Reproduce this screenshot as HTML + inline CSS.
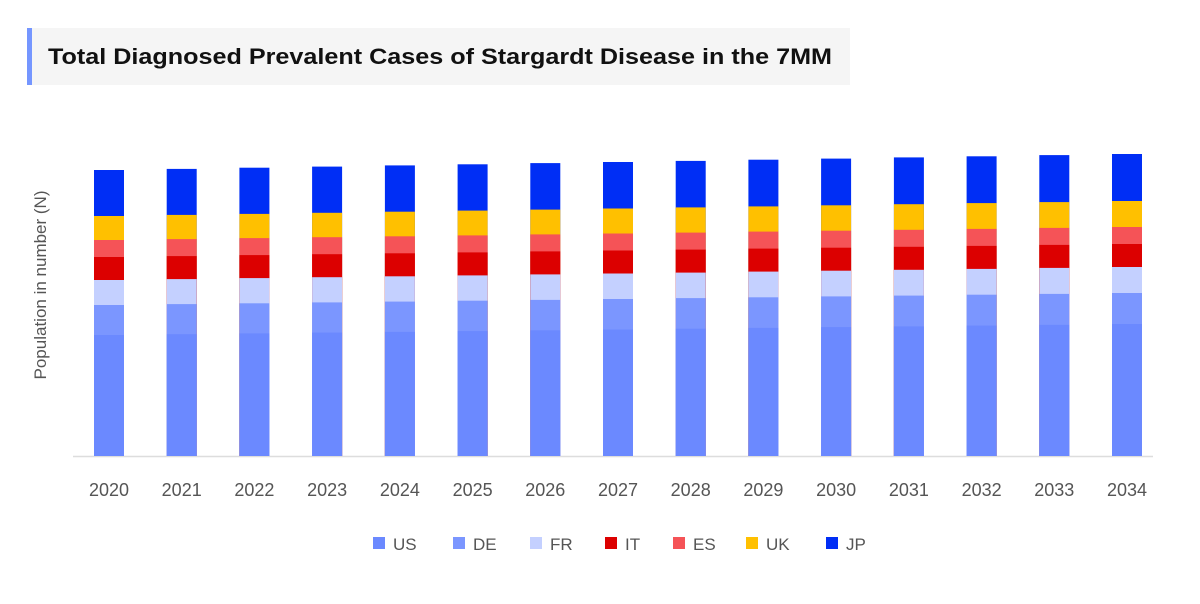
<!DOCTYPE html><html><head><style>body{margin:0;background:#fff;font-family:"Liberation Sans",sans-serif}
.jp{fill:#002ef5}.uk{fill:#ffc000}.es{fill:#f55357}.it{fill:#dc0000}.fr{fill:#c4d0ff}.de{fill:#7b96ff}.us{fill:#6b89ff}</style></head><body>
<svg width="1200" height="599" xmlns="http://www.w3.org/2000/svg" font-family="Liberation Sans, sans-serif">
<rect x="27" y="28" width="823" height="57" fill="#f5f5f5"/>
<rect x="27" y="28" width="5" height="57" fill="#7596ff"/>
<text x="48" y="64" font-size="22" font-weight="bold" fill="#111" textLength="784" lengthAdjust="spacingAndGlyphs">Total Diagnosed Prevalent Cases of Stargardt Disease in the 7MM</text>
<text transform="translate(46,285) rotate(-90)" text-anchor="middle" font-size="17" fill="#555">Population in number (N)</text>
<line x1="73" y1="456.5" x2="1153" y2="456.5" stroke="#ddd" stroke-width="1.5"/>
<g>
<rect class="jp" x="94" y="170" width="30" height="286"/><rect class="uk" x="94" y="216" width="30" height="240"/><rect class="es" x="94" y="240" width="30" height="216"/><rect class="it" x="94" y="257" width="30" height="199"/><rect class="fr" x="94" y="280" width="30" height="176"/><rect class="de" x="94" y="305" width="30" height="151"/><rect class="us" x="94" y="335" width="30" height="121"/>
<rect class="jp" x="166.7" y="168.9" width="30" height="287.1"/><rect class="uk" x="166.7" y="214.9" width="30" height="241.1"/><rect class="es" x="166.7" y="239.1" width="30" height="216.9"/><rect class="it" x="166.7" y="256.1" width="30" height="199.9"/><rect class="fr" x="166.7" y="279.1" width="30" height="176.9"/><rect class="de" x="166.7" y="304.1" width="30" height="151.9"/><rect class="us" x="166.7" y="334.2" width="30" height="121.8"/>
<rect class="jp" x="239.4" y="167.7" width="30" height="288.3"/><rect class="uk" x="239.4" y="213.9" width="30" height="242.1"/><rect class="es" x="239.4" y="238.1" width="30" height="217.9"/><rect class="it" x="239.4" y="255.1" width="30" height="200.9"/><rect class="fr" x="239.4" y="278.1" width="30" height="177.9"/><rect class="de" x="239.4" y="303.3" width="30" height="152.7"/><rect class="us" x="239.4" y="333.4" width="30" height="122.6"/>
<rect class="jp" x="312.1" y="166.6" width="30" height="289.4"/><rect class="uk" x="312.1" y="212.8" width="30" height="243.2"/><rect class="es" x="312.1" y="237.2" width="30" height="218.8"/><rect class="it" x="312.1" y="254.2" width="30" height="201.8"/><rect class="fr" x="312.1" y="277.2" width="30" height="178.8"/><rect class="de" x="312.1" y="302.4" width="30" height="153.6"/><rect class="us" x="312.1" y="332.6" width="30" height="123.4"/>
<rect class="jp" x="384.9" y="165.4" width="30" height="290.6"/><rect class="uk" x="384.9" y="211.7" width="30" height="244.3"/><rect class="es" x="384.9" y="236.3" width="30" height="219.7"/><rect class="it" x="384.9" y="253.3" width="30" height="202.7"/><rect class="fr" x="384.9" y="276.3" width="30" height="179.7"/><rect class="de" x="384.9" y="301.6" width="30" height="154.4"/><rect class="us" x="384.9" y="331.9" width="30" height="124.1"/>
<rect class="jp" x="457.6" y="164.3" width="30" height="291.7"/><rect class="uk" x="457.6" y="210.6" width="30" height="245.4"/><rect class="es" x="457.6" y="235.4" width="30" height="220.6"/><rect class="it" x="457.6" y="252.4" width="30" height="203.6"/><rect class="fr" x="457.6" y="275.4" width="30" height="180.6"/><rect class="de" x="457.6" y="300.7" width="30" height="155.3"/><rect class="us" x="457.6" y="331.1" width="30" height="124.9"/>
<rect class="jp" x="530.3" y="163.1" width="30" height="292.9"/><rect class="uk" x="530.3" y="209.6" width="30" height="246.4"/><rect class="es" x="530.3" y="234.4" width="30" height="221.6"/><rect class="it" x="530.3" y="251.4" width="30" height="204.6"/><rect class="fr" x="530.3" y="274.4" width="30" height="181.6"/><rect class="de" x="530.3" y="299.9" width="30" height="156.1"/><rect class="us" x="530.3" y="330.3" width="30" height="125.7"/>
<rect class="jp" x="603" y="162" width="30" height="294"/><rect class="uk" x="603" y="208.5" width="30" height="247.5"/><rect class="es" x="603" y="233.5" width="30" height="222.5"/><rect class="it" x="603" y="250.5" width="30" height="205.5"/><rect class="fr" x="603" y="273.5" width="30" height="182.5"/><rect class="de" x="603" y="299" width="30" height="157"/><rect class="us" x="603" y="329.5" width="30" height="126.5"/>
<rect class="jp" x="675.7" y="160.9" width="30" height="295.1"/><rect class="uk" x="675.7" y="207.4" width="30" height="248.6"/><rect class="es" x="675.7" y="232.6" width="30" height="223.4"/><rect class="it" x="675.7" y="249.6" width="30" height="206.4"/><rect class="fr" x="675.7" y="272.6" width="30" height="183.4"/><rect class="de" x="675.7" y="298.1" width="30" height="157.9"/><rect class="us" x="675.7" y="328.7" width="30" height="127.3"/>
<rect class="jp" x="748.4" y="159.7" width="30" height="296.3"/><rect class="uk" x="748.4" y="206.4" width="30" height="249.6"/><rect class="es" x="748.4" y="231.6" width="30" height="224.4"/><rect class="it" x="748.4" y="248.6" width="30" height="207.4"/><rect class="fr" x="748.4" y="271.6" width="30" height="184.4"/><rect class="de" x="748.4" y="297.3" width="30" height="158.7"/><rect class="us" x="748.4" y="327.9" width="30" height="128.1"/>
<rect class="jp" x="821.1" y="158.6" width="30" height="297.4"/><rect class="uk" x="821.1" y="205.3" width="30" height="250.7"/><rect class="es" x="821.1" y="230.7" width="30" height="225.3"/><rect class="it" x="821.1" y="247.7" width="30" height="208.3"/><rect class="fr" x="821.1" y="270.7" width="30" height="185.3"/><rect class="de" x="821.1" y="296.4" width="30" height="159.6"/><rect class="us" x="821.1" y="327.1" width="30" height="128.9"/>
<rect class="jp" x="893.9" y="157.4" width="30" height="298.6"/><rect class="uk" x="893.9" y="204.2" width="30" height="251.8"/><rect class="es" x="893.9" y="229.8" width="30" height="226.2"/><rect class="it" x="893.9" y="246.8" width="30" height="209.2"/><rect class="fr" x="893.9" y="269.8" width="30" height="186.2"/><rect class="de" x="893.9" y="295.6" width="30" height="160.4"/><rect class="us" x="893.9" y="326.4" width="30" height="129.6"/>
<rect class="jp" x="966.6" y="156.3" width="30" height="299.7"/><rect class="uk" x="966.6" y="203.1" width="30" height="252.9"/><rect class="es" x="966.6" y="228.9" width="30" height="227.1"/><rect class="it" x="966.6" y="245.9" width="30" height="210.1"/><rect class="fr" x="966.6" y="268.9" width="30" height="187.1"/><rect class="de" x="966.6" y="294.7" width="30" height="161.3"/><rect class="us" x="966.6" y="325.6" width="30" height="130.4"/>
<rect class="jp" x="1039.3" y="155.1" width="30" height="300.9"/><rect class="uk" x="1039.3" y="202.1" width="30" height="253.9"/><rect class="es" x="1039.3" y="227.9" width="30" height="228.1"/><rect class="it" x="1039.3" y="244.9" width="30" height="211.1"/><rect class="fr" x="1039.3" y="267.9" width="30" height="188.1"/><rect class="de" x="1039.3" y="293.9" width="30" height="162.1"/><rect class="us" x="1039.3" y="324.8" width="30" height="131.2"/>
<rect class="jp" x="1112" y="154" width="30" height="302"/><rect class="uk" x="1112" y="201" width="30" height="255"/><rect class="es" x="1112" y="227" width="30" height="229"/><rect class="it" x="1112" y="244" width="30" height="212"/><rect class="fr" x="1112" y="267" width="30" height="189"/><rect class="de" x="1112" y="293" width="30" height="163"/><rect class="us" x="1112" y="324" width="30" height="132"/>
</g>
<g font-size="18" fill="#555" text-anchor="middle">
<text x="109" y="496">2020</text><text x="181.7" y="496">2021</text><text x="254.4" y="496">2022</text><text x="327.1" y="496">2023</text><text x="399.9" y="496">2024</text><text x="472.6" y="496">2025</text><text x="545.3" y="496">2026</text><text x="618" y="496">2027</text><text x="690.7" y="496">2028</text><text x="763.4" y="496">2029</text><text x="836.1" y="496">2030</text><text x="908.9" y="496">2031</text><text x="981.6" y="496">2032</text><text x="1054.3" y="496">2033</text><text x="1127" y="496">2034</text>
</g>
<g font-size="17" fill="#555">
<rect x="373" y="537" width="12" height="12" fill="#6b89ff"/><text x="393" y="550">US</text>
<rect x="453" y="537" width="12" height="12" fill="#7b96ff"/><text x="473" y="550">DE</text>
<rect x="530" y="537" width="12" height="12" fill="#c4d0ff"/><text x="550" y="550">FR</text>
<rect x="605" y="537" width="12" height="12" fill="#dc0000"/><text x="625" y="550">IT</text>
<rect x="673" y="537" width="12" height="12" fill="#f55357"/><text x="693" y="550">ES</text>
<rect x="746" y="537" width="12" height="12" fill="#ffc000"/><text x="766" y="550">UK</text>
<rect x="826" y="537" width="12" height="12" fill="#002ef5"/><text x="846" y="550">JP</text>
</g>
</svg></body></html>
